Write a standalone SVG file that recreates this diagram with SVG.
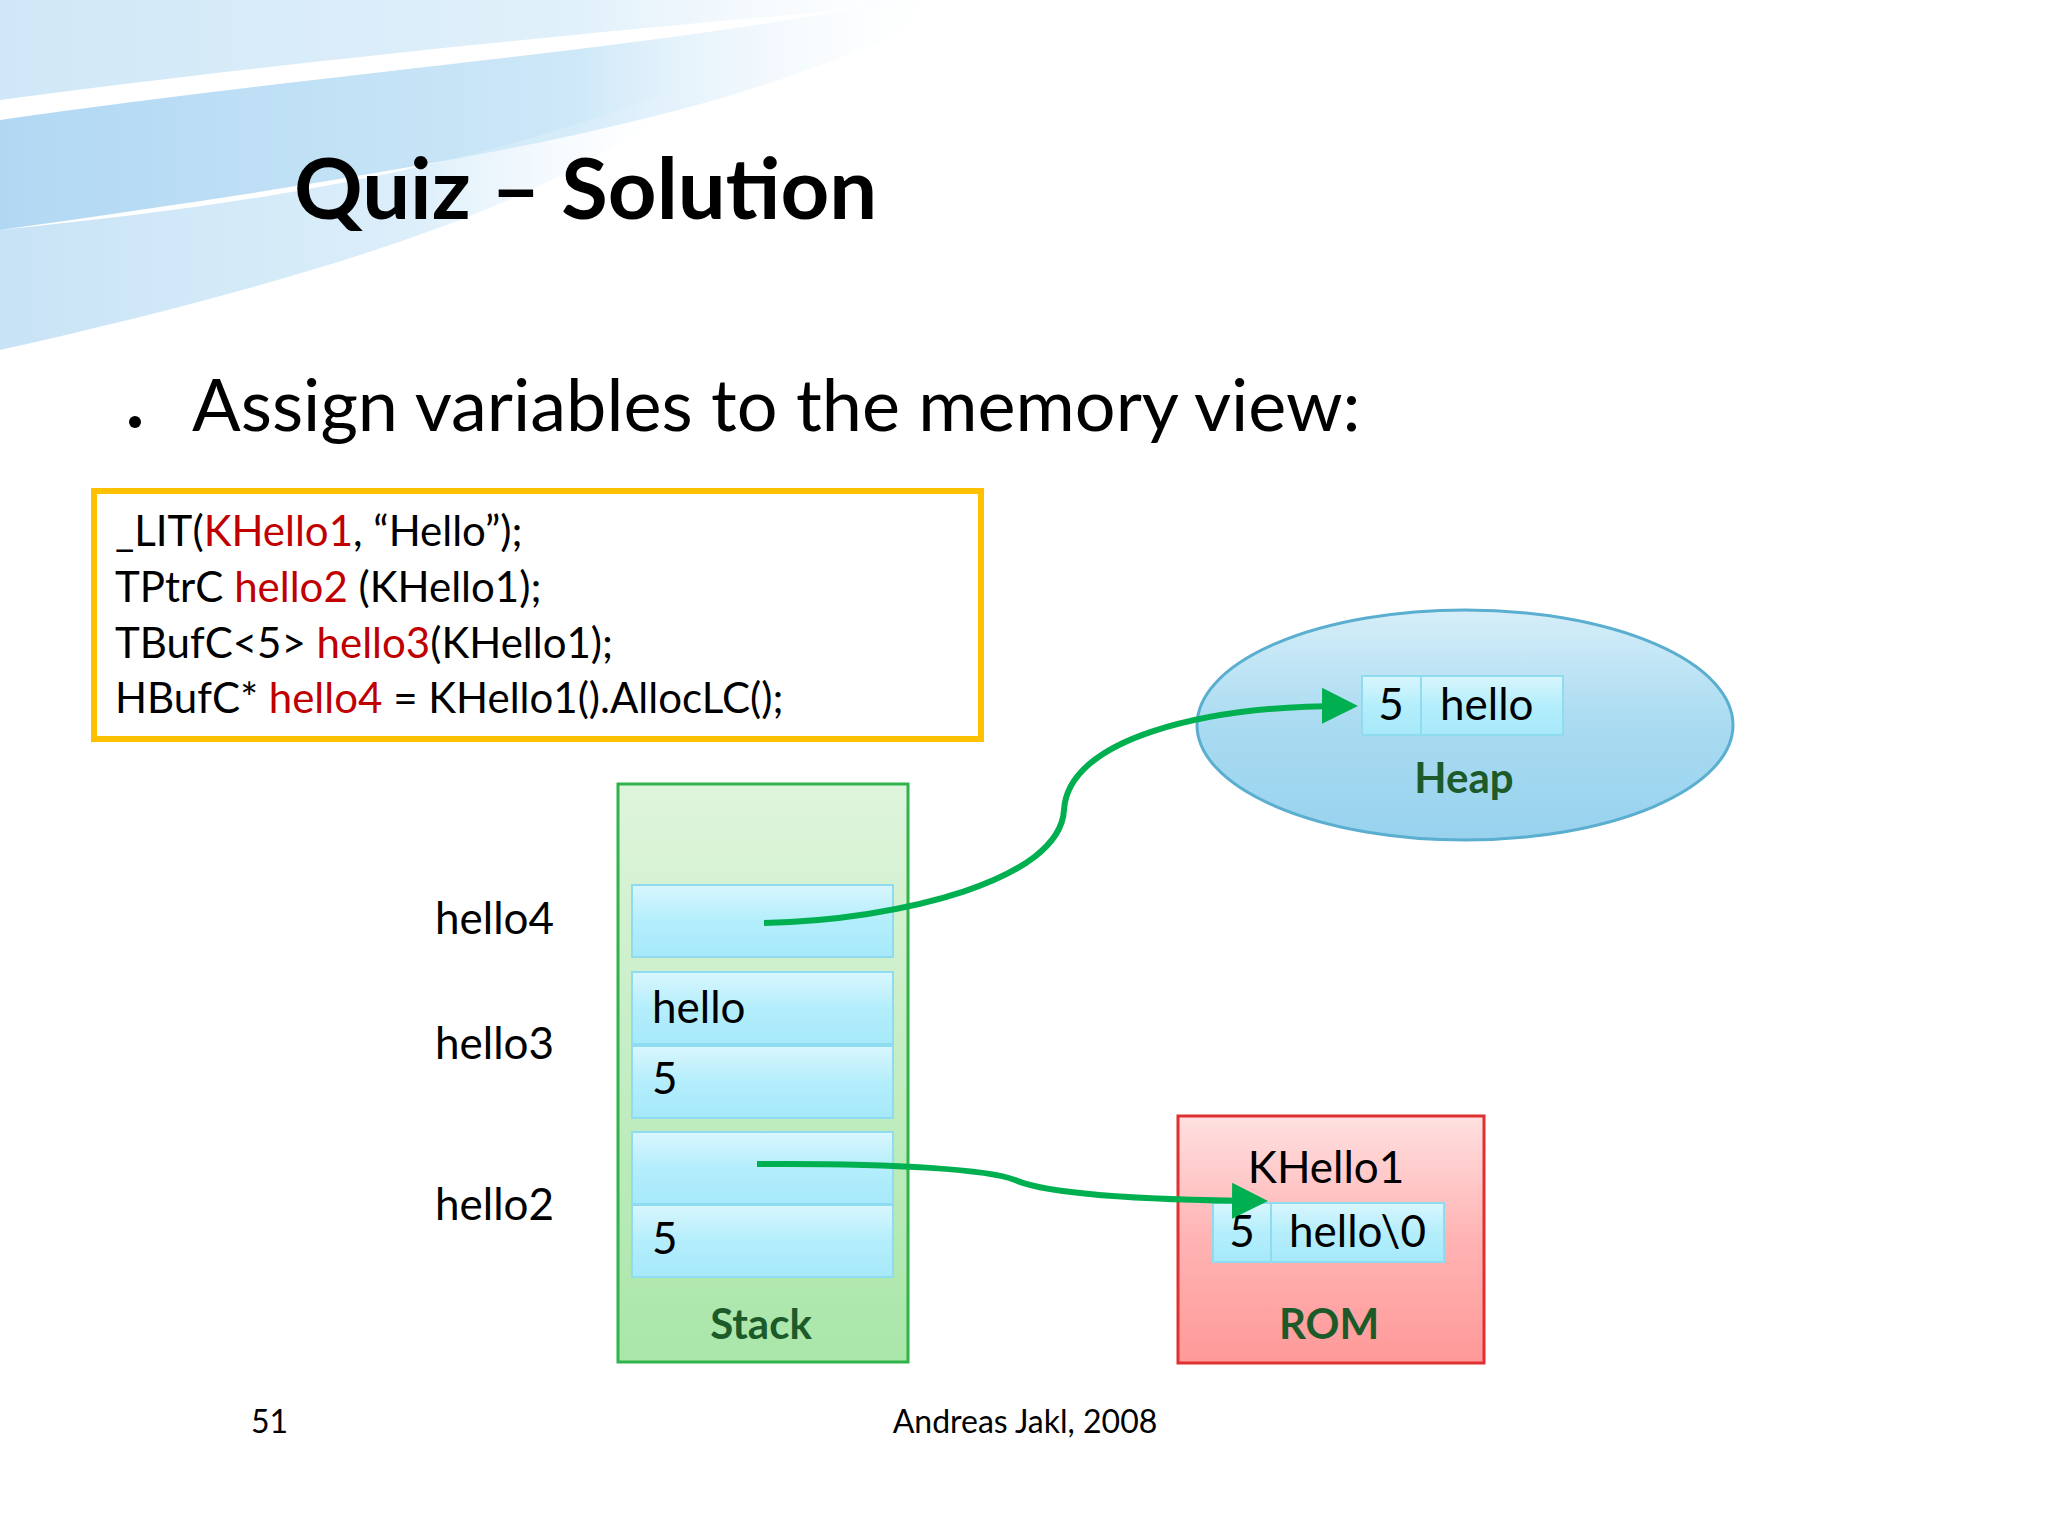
<svg xmlns="http://www.w3.org/2000/svg" width="2048" height="1536" viewBox="0 0 2048 1536">
<defs>
<linearGradient id="sw" x1="0" y1="0" x2="1" y2="0"><stop offset="0" stop-color="#a9d4f2"/><stop offset="0.6" stop-color="#c9e6f8"/><stop offset="1" stop-color="#ffffff" stop-opacity="0"/></linearGradient>
<linearGradient id="cell" x1="0" y1="0" x2="0" y2="1"><stop offset="0" stop-color="#d9f6fd"/><stop offset="0.5" stop-color="#b4eefc"/><stop offset="1" stop-color="#a6e9fa"/></linearGradient>
<linearGradient id="stack" x1="0" y1="0" x2="0" y2="1"><stop offset="0" stop-color="#dff4dc"/><stop offset="1" stop-color="#a9e6a9"/></linearGradient>
<linearGradient id="rom" x1="0" y1="0" x2="0" y2="1"><stop offset="0" stop-color="#ffe0e0"/><stop offset="0.5" stop-color="#ffb3b3"/><stop offset="1" stop-color="#ff9999"/></linearGradient>
<linearGradient id="heap" x1="0" y1="0" x2="0" y2="1"><stop offset="0" stop-color="#d6eef9"/><stop offset="0.5" stop-color="#a9dbf1"/><stop offset="1" stop-color="#98d2ee"/></linearGradient>
<marker id="ah" markerWidth="6" markerHeight="6" refX="5" refY="3" orient="auto" markerUnits="strokeWidth"><path d="M0,0 L6,3 L0,6 z" fill="#00B050"/></marker>
<style>
.t{font-family:Lato,"Open Sans",sans-serif;fill:#000}
.c{stroke:#8fdcf0;stroke-width:2;fill:url(#cell)}
.conn{fill:none;stroke:#00B050;stroke-width:6;marker-end:url(#ah)}
.lbl{font-family:Lato,sans-serif;font-weight:bold;font-size:42px;fill:#1c5a2a;text-anchor:middle}
.r{fill:#c00000}
</style>
</defs>
<rect width="2048" height="1536" fill="#fff"/>
<g id="bg" opacity="0.9">
<path d="M0,100 C300,60 700,20 980,0 L0,0 Z" fill="url(#sw)" opacity="0.6"/>
<path d="M0,120 C350,70 650,50 900,0 L960,0 C760,120 420,170 0,230 Z" fill="url(#sw)"/>
<path d="M0,230 C300,200 500,160 700,80 C600,180 400,260 0,350 Z" fill="url(#sw)" opacity="0.7"/>
</g>
<text class="t" x="294" y="219" font-size="85" font-weight="bold">Quiz – Solution</text>
<circle cx="135" cy="422" r="6" fill="#000"/>
<text class="t" x="192" y="431" font-size="72">Assign variables to the memory view:</text>
<g id="code">
<rect x="94" y="491" width="887" height="248" fill="#fff" stroke="#FFC000" stroke-width="6"/>
<text class="t" x="115" y="546" font-size="42">_LIT(<tspan class="r">KHello1</tspan>, “Hello”);</text>
<text class="t" x="115" y="602" font-size="42">TPtrC <tspan class="r">hello2</tspan> (KHello1);</text>
<text class="t" x="115" y="658" font-size="42">TBufC&lt;5&gt; <tspan class="r">hello3</tspan>(KHello1);</text>
<text class="t" x="115" y="713" font-size="42">HBufC* <tspan class="r">hello4</tspan> = KHello1().AllocLC();</text>
</g>
<g id="heap">
<ellipse cx="1465" cy="725" rx="268" ry="115" fill="url(#heap)" stroke="#5aaecf" stroke-width="3"/>
<rect class="c" x="1362" y="676" width="59" height="59"/>
<rect class="c" x="1421" y="676" width="142" height="59"/>
<text class="t" x="1391" y="720" font-size="44" text-anchor="middle">5</text>
<text class="t" x="1440" y="720" font-size="44">hello</text>
<text class="lbl" x="1464" y="793">Heap</text>
</g>
<g id="stack">
<rect x="618" y="784" width="290" height="578" fill="url(#stack)" stroke="#2fb34a" stroke-width="3"/>
<rect class="c" x="632" y="885" width="261" height="72"/>
<rect class="c" x="632" y="972" width="261" height="72"/>
<rect class="c" x="632" y="1046" width="261" height="72"/>
<rect class="c" x="632" y="1132" width="261" height="72"/>
<rect class="c" x="632" y="1205" width="261" height="72"/>
<text class="t" x="652" y="1023" font-size="44">hello</text>
<text class="t" x="652" y="1094" font-size="44">5</text>
<text class="t" x="652" y="1254" font-size="44">5</text>
<text class="lbl" x="761" y="1339">Stack</text>
</g>
<g id="labels">
<text class="t" x="435" y="934" font-size="44">hello4</text>
<text class="t" x="435" y="1059" font-size="44">hello3</text>
<text class="t" x="435" y="1220" font-size="44">hello2</text>
</g>
<g id="rom">
<rect x="1178" y="1116" width="306" height="247" fill="url(#rom)" stroke="#e03030" stroke-width="3"/>
<text class="t" x="1326" y="1183" font-size="44" text-anchor="middle">KHello1</text>
<rect class="c" x="1213" y="1203" width="58" height="59"/>
<rect class="c" x="1271" y="1203" width="173" height="59"/>
<text class="t" x="1242" y="1247" font-size="44" text-anchor="middle">5</text>
<text class="t" x="1289" y="1247" font-size="44">hello\0</text>
<text class="lbl" x="1329" y="1339">ROM</text>
</g>
<g id="connectors">
<path class="conn" d="M764,923 C900,920 1060,880 1064,810 C1068,740 1200,705 1352,706"/>
<path class="conn" d="M757,1164 C900,1163 990,1170 1015,1180 C1050,1195 1150,1200 1262,1201"/>
</g>
<text class="t" x="251" y="1433" font-size="32">51</text>
<text class="t" x="1025" y="1433" font-size="32" text-anchor="middle">Andreas Jakl, 2008</text>
</svg>
